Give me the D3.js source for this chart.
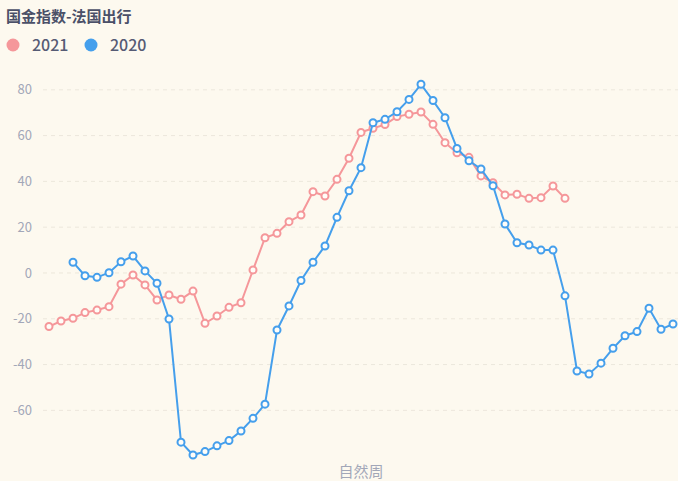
<!DOCTYPE html>
<html lang="zh">
<head>
<meta charset="utf-8">
<title>国金指数-法国出行</title>
<script src="https://cdn.jsdelivr.net/npm/d3@7"></script>
<style>
  body { margin: 0; background: #fdf9ef; }
  svg { display: block; font-family: "Noto Sans CJK SC", "Noto Sans", sans-serif; }
</style>
</head>
<body>
<script>
// 自然周 1..53
var weeks = d3.range(1, 54);

// 2021 starts at week 1
var values2021 = [-23.4, -21, -19.8, -17.3, -16.2, -14.7, -4.9, -0.9, -5.2, -11.8,
  -9.6, -11.5, -7.9, -22, -18.8, -15, -13, 1.3, 15.4, 17.3,
  22.4, 25.3, 35.5, 33.6, 40.9, 50.1, 61.4, 63.2, 64.8, 68.3,
  69.3, 70.3, 64.9, 56.9, 52.5, 50.5, 42.4, 39.4, 34.1, 34.4,
  32.6, 32.9, 38, 32.6];

// 2020 starts at week 3
var values2020 = [4.7, -1.2, -1.9, 0.1, 4.9, 7.4, 0.9, -4.5, -20.1, -73.9,
  -79.5, -78, -75.5, -73.2, -69, -63.5, -57.3, -24.9, -14.4, -3.3,
  4.7, 11.8, 24.3, 35.9, 46, 65.6, 67.1, 70.4, 75.8, 82.4,
  75.3, 67.8, 54.4, 49, 45.4, 38.1, 21.4, 13.2, 12.2, 10,
  10, -10, -42.8, -44.1, -39.4, -32.9, -27.4, -25.6, -15.4, -24.6,
  -22.3];

var yTicks = [-60, -40, -20, 0, 20, 40, 60, 80];

var series = [
  { name: "2021", color: "#f5979a", start: 1, values: values2021 },
  { name: "2020", color: "#459fec", start: 3, values: values2020 }
];

var w = 678, h = 481;

var svg = d3.select("body").append("svg")
  .attr("width", w)
  .attr("height", h);

var xScale = d3.scalePoint()
  .domain(weeks)
  .range([49, 673]);

var yScale = d3.scaleLinear()
  .domain([-79.5, 82.4])
  .range([455, 84.3]);

// grid lines
svg.selectAll("line.grid")
  .data(yTicks)
  .enter()
  .append("line")
  .attr("class", "grid")
  .attr("x1", 43)
  .attr("x2", w)
  .attr("y1", function(d) { return yScale(d); })
  .attr("y2", function(d) { return yScale(d); })
  .attr("stroke", "#ece7dc")
  .attr("stroke-dasharray", "4,4")
  .attr("stroke-width", 1);

// y axis labels
svg.selectAll("text.ytick")
  .data(yTicks)
  .enter()
  .append("text")
  .attr("class", "ytick")
  .attr("x", 32)
  .attr("y", function(d) { return yScale(d); })
  .attr("dy", "0.35em")
  .attr("text-anchor", "end")
  .attr("font-size", "13px")
  .attr("fill", "#a2a7b8")
  .text(function(d) { return d; });

// lines and markers
series.forEach(function(s) {
  var pts = s.values.map(function(v, i) { return { week: s.start + i, v: v }; });

  var line = d3.line()
    .x(function(d) { return xScale(d.week); })
    .y(function(d) { return yScale(d.v); });

  svg.append("path")
    .datum(pts)
    .attr("d", line)
    .attr("fill", "none")
    .attr("stroke", s.color)
    .attr("stroke-width", 2);

  svg.selectAll("circle.m" + s.name)
    .data(pts)
    .enter()
    .append("circle")
    .attr("class", "m" + s.name)
    .attr("cx", function(d) { return xScale(d.week); })
    .attr("cy", function(d) { return yScale(d.v); })
    .attr("r", 3.5)
    .attr("fill", "#fffdf8")
    .attr("stroke", s.color)
    .attr("stroke-width", 2);
});

// title
svg.append("text")
  .attr("x", 6)
  .attr("y", 22)
  .attr("font-size", "15px")
  .attr("font-weight", "bold")
  .attr("fill", "#4b5068")
  .text("国金指数-法国出行");

// legend
var legendX = [13, 91];
series.forEach(function(s, i) {
  svg.append("circle")
    .attr("cx", legendX[i])
    .attr("cy", 45)
    .attr("r", 6.5)
    .attr("fill", s.color);
  svg.append("text")
    .attr("x", legendX[i] + 19)
    .attr("y", 51)
    .attr("font-size", "16px")
    .attr("font-weight", "500")
    .attr("fill", "#565b74")
    .text(s.name);
});

// x axis name
svg.append("text")
  .attr("x", 361)
  .attr("y", 477)
  .attr("text-anchor", "middle")
  .attr("font-size", "15px")
  .attr("fill", "#a2a7b8")
  .text("自然周");
</script>
</body>
</html>
